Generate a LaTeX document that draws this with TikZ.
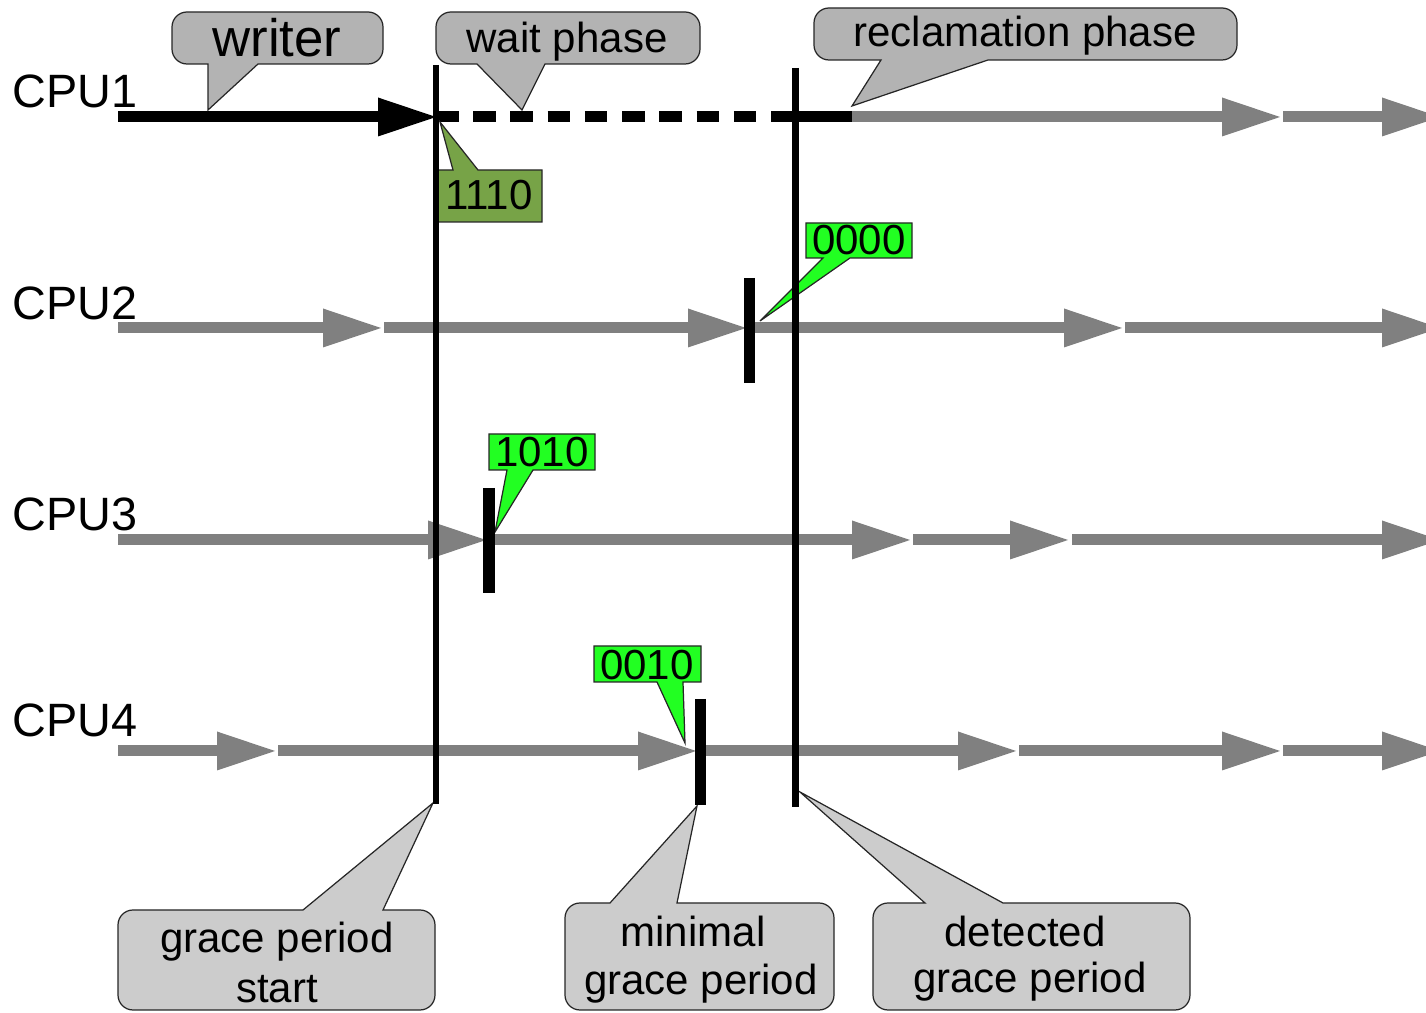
\documentclass[tikz,border=0pt]{standalone}
\usepackage{fontspec}
\setmainfont{Liberation Sans}

\definecolor{lineGray}{HTML}{808080}
\definecolor{calloutDark}{HTML}{B3B3B3}
\definecolor{calloutLight}{HTML}{CCCCCC}
\definecolor{flagGreen}{HTML}{22FF22}
\definecolor{flagOlive}{HTML}{77A347}

% one arrow of a CPU time line: colour, start x, tip x, y
\newcommand\tlarrow[4]{%
  \fill[#1] (#2,#4-5.5) rectangle (#3-57,#4+5.5);
  \fill[#1] (#3-58,#4-19.5) -- (#3,#4) -- (#3-58,#4+19.5) -- cycle;}

\begin{document}
\begin{tikzpicture}[x=0.01cm, y=-0.01cm,
  txt/.style={font=\fontsize{11.95}{14}\selectfont, inner sep=0pt, anchor=base},
  bigtxt/.style={txt, font=\fontsize{15}{17}\selectfont},
  cpu/.style={font=\fontsize{13.3}{15}\selectfont, inner sep=0pt, anchor=base west},
  balloon/.style={draw=black!85, line width=0.35pt},
  calltop/.style={balloon, fill=calloutDark},
  callbot/.style={balloon, fill=calloutLight},
  flag/.style={draw=black!85, line width=0.35pt},
  timeline/.style={draw=black, line width=0.065cm},
  qsbar/.style={draw=black, line width=0.115cm},
]
\useasboundingbox (0,0) rectangle (1426,1013);
\clip (0,0) rectangle (1426,1013);

% ---------- CPU time lines ----------
% CPU1: writer, wait phase (dashed), reclamation phase
\tlarrow{black}{118}{436}{117}
\draw[black, line width=0.11cm, dash pattern=on 0.225cm off 0.147cm] (436,117) -- (771,117);
\fill[black] (771,111.5) rectangle (852,122.5);
\tlarrow{lineGray}{852}{1280}{117}
\tlarrow{lineGray}{1283}{1440}{117}
% CPU2
\tlarrow{lineGray}{118}{381}{328}
\tlarrow{lineGray}{384}{746}{328}
\tlarrow{lineGray}{752}{1122}{328}
\tlarrow{lineGray}{1125}{1440}{328}
% CPU3
\tlarrow{lineGray}{118}{486}{540}
\tlarrow{lineGray}{490}{910}{540}
\tlarrow{lineGray}{913}{1068}{540}
\tlarrow{lineGray}{1072}{1440}{540}
% CPU4
\tlarrow{lineGray}{118}{275}{751}
\tlarrow{lineGray}{278}{696}{751}
\tlarrow{lineGray}{705}{1016}{751}
\tlarrow{lineGray}{1019}{1280}{751}
\tlarrow{lineGray}{1283}{1440}{751}

\node[cpu] (cpu1) at (12,108) {CPU1};
\node[cpu] (cpu2) at (12,320) {CPU2};
\node[cpu] (cpu3) at (12,531) {CPU3};
\node[cpu] (cpu4) at (12,737) {CPU4};

% ---------- pointer tips ----------
\coordinate (writerTip) at (208,110);
\coordinate (waitTip)   at (522,110);
\coordinate (reclTip)   at (852,106);
\coordinate (gpsTip)    at (433,803);
\coordinate (minTip)    at (697,806);
\coordinate (detTip)    at (800,792);
\coordinate (fAtip)     at (440,122);
\coordinate (fBtip)     at (760,321);
\coordinate (fCtip)     at (495,532);
\coordinate (fDtip)     at (685,743);

% ---------- upper callouts ----------
\path[calltop] (writerTip) -- (258,64) [rounded corners=0.15cm] -- (383,64) -- (383,12)
  -- (172,12) -- (172,64) [sharp corners] -- (208,64) -- cycle;
\path[calltop] (waitTip) -- (545,64) [rounded corners=0.15cm] -- (700,64) -- (700,12)
  -- (436,12) -- (436,64) [sharp corners] -- (477,64) -- cycle;
\path[calltop] (reclTip) -- (988,60) [rounded corners=0.15cm] -- (1237,60) -- (1237,8)
  -- (814,8) -- (814,60) [sharp corners] -- (881,60) -- cycle;

% ---------- lower callouts ----------
\path[callbot] (gpsTip) -- (383,910) [rounded corners=0.15cm] -- (435,910) -- (435,1010)
  -- (118,1010) -- (118,910) [sharp corners] -- (303,910) -- cycle;
\path[callbot] (minTip) -- (677,903) [rounded corners=0.15cm] -- (834,903) -- (834,1010)
  -- (565,1010) -- (565,903) [sharp corners] -- (610,903) -- cycle;
\path[callbot] (detTip) -- (1003,903) [rounded corners=0.15cm] -- (1190,903) -- (1190,1010)
  -- (873,1010) -- (873,903) [sharp corners] -- (925,903) -- cycle;

% ---------- counter flags ----------
\path[flag, fill=flagOlive] (fAtip) -- (478,170) -- (542,170) -- (542,222)
  -- (436,222) -- (436,170) -- (453,170) -- cycle;
\path[flag, fill=flagGreen] (fBtip) -- (850,258) -- (912,258) -- (912,223)
  -- (806,223) -- (806,258) -- (823,258) -- cycle;
\path[flag, fill=flagGreen] (fCtip) -- (533,470) -- (595,470) -- (595,434)
  -- (489,434) -- (489,470) -- (507,470) -- cycle;
\path[flag, fill=flagGreen] (fDtip) -- (683,682) -- (701,682) -- (701,646)
  -- (594,646) -- (594,682) -- (657,682) -- cycle;

% ---------- grace period boundaries and quiescent states ----------
\draw[timeline] (436,65) coordinate (gpStartTop) -- (436,804) coordinate (gpStartBot);
\draw[timeline] (795.5,68) coordinate (gpEndTop) -- (795.5,807) coordinate (gpEndBot);
\draw[qsbar] (749.5,278) coordinate (qs2a) -- (749.5,383) coordinate (qs2b);
\draw[qsbar] (489,488) coordinate (qs3a) -- (489,593) coordinate (qs3b);
\draw[qsbar] (700.5,699) coordinate (qs4a) -- (700.5,805) coordinate (qs4b);

% ---------- texts ----------
\node[bigtxt] (writer) at (277,57) {writer};
\node[txt] (wait) at (567,53) {wait phase};
\node[txt] (recl) at (1025,47) {reclamation phase};

\node[txt] (flagA) at (489,210) {1110};
\node[txt] (flagB) at (859,255) {0000};
\node[txt] (flagC) at (542,467) {1010};
\node[txt] (flagD) at (647,680) {0010};

\node[txt] (gpsA) at (277,953) {grace period};
\node[txt] (gpsB) at (277,1003) {start};
\node[txt] (minA) at (693,947) {minimal};
\node[txt] (minB) at (701,995) {grace period};
\node[txt] (detA) at (1025,947) {detected};
\node[txt] (detB) at (1030,993) {grace period};
\end{tikzpicture}
\end{document}
